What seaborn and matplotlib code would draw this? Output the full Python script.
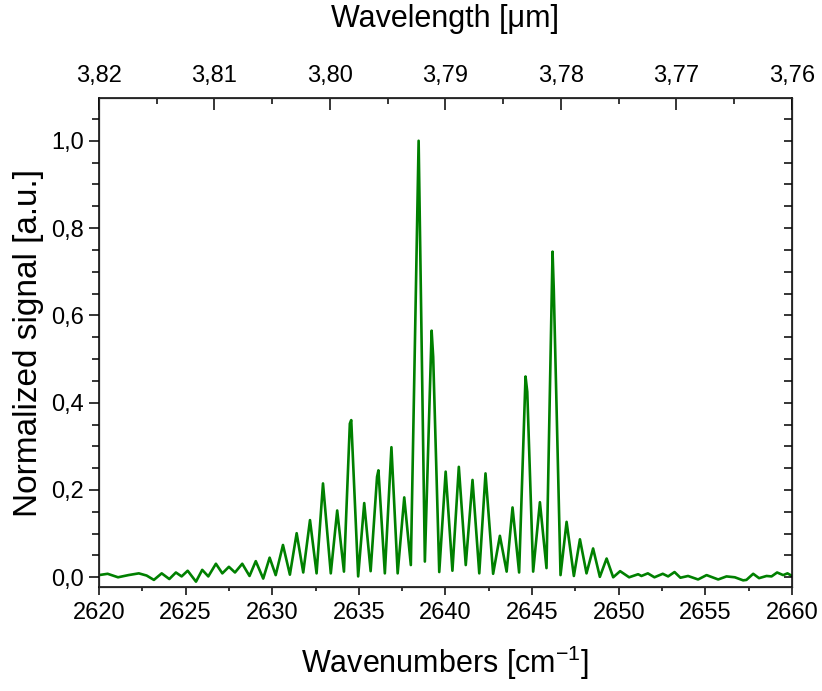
import numpy as np
import pandas as pd
import matplotlib
matplotlib.use("Agg")
import matplotlib.pyplot as plt
from matplotlib.ticker import MultipleLocator, FuncFormatter
import seaborn as sns

# Spectrum (peaks and troughs)
wavenumber = [
    2620.00, 2620.50, 2621.10, 2621.70, 2622.30, 2622.75, 2623.17, 2623.62,
    2624.06, 2624.44, 2624.77, 2625.12, 2625.60, 2625.96, 2626.31, 2626.75,
    2627.12, 2627.50, 2627.85, 2628.27, 2628.69, 2629.05, 2629.48, 2629.85,
    2630.20, 2630.62, 2631.02, 2631.41, 2631.79, 2632.18, 2632.56, 2632.93,
    2633.38, 2633.75, 2634.14, 2634.48, 2634.56, 2634.96, 2635.31, 2635.68,
    2636.05, 2636.13, 2636.50, 2636.88, 2637.24, 2637.62, 2638.00, 2638.45,
    2638.81, 2639.20, 2639.29, 2639.64, 2640.01, 2640.40, 2640.77, 2641.17,
    2641.56, 2641.95, 2642.31, 2642.75, 2643.14, 2643.53, 2643.87, 2644.25,
    2644.62, 2644.72, 2645.06, 2645.45, 2645.83, 2646.18, 2646.25, 2646.64,
    2646.99, 2647.41, 2647.76, 2648.14, 2648.52, 2648.91, 2649.30, 2649.68,
    2650.08, 2650.60, 2651.12, 2651.31, 2651.68, 2652.06, 2652.54, 2652.85,
    2653.22, 2653.56, 2654.00, 2654.58, 2655.07, 2655.74, 2656.22, 2656.70,
    2657.18, 2657.37, 2657.76, 2658.10, 2658.53, 2658.82, 2659.14, 2659.49,
    2659.74, 2660.00,
]
signal = [
    0.005, 0.008, 0.000, 0.005, 0.009, 0.004, -0.006, 0.009,
    -0.004, 0.011, 0.002, 0.015, -0.010, 0.017, 0.002, 0.031,
    0.009, 0.024, 0.011, 0.031, 0.003, 0.037, -0.003, 0.045,
    0.005, 0.074, 0.006, 0.101, 0.011, 0.131, 0.009, 0.215,
    0.009, 0.153, 0.013, 0.352, 0.360, 0.002, 0.170, 0.014,
    0.230, 0.245, 0.009, 0.298, 0.009, 0.183, 0.028, 1.000,
    0.036, 0.565, 0.505, 0.012, 0.242, 0.015, 0.253, 0.028,
    0.223, 0.009, 0.238, 0.008, 0.095, 0.013, 0.160, 0.011,
    0.460, 0.425, 0.013, 0.172, 0.021, 0.746, 0.660, 0.005,
    0.127, 0.003, 0.087, 0.009, 0.066, 0.001, 0.043, 0.000,
    0.014, 0.000, 0.007, 0.003, 0.009, 0.000, 0.008, 0.002,
    0.012, -0.001, 0.003, -0.005, 0.005, -0.005, 0.002, 0.000,
    -0.007, -0.006, 0.008, -0.002, 0.003, 0.002, 0.011, 0.005,
    0.009, 0.003,
]

df = pd.DataFrame({"wavenumber": wavenumber, "signal": signal})

sns.set_style("ticks")
plt.rcParams["font.family"] = ["Liberation Sans", "DejaVu Sans"]
plt.rcParams["mathtext.fontset"] = "custom"
plt.rcParams["mathtext.rm"] = "Liberation Sans"
plt.rcParams["text.color"] = "black"
plt.rcParams["axes.labelcolor"] = "black"

comma = FuncFormatter(lambda v, pos: f"{v:.1f}".replace(".", ","))
comma2 = FuncFormatter(lambda v, pos: f"{v:.2f}".replace(".", ","))

fig = plt.figure(figsize=(8.22, 6.91), dpi=100)
ax = fig.add_axes([0.1204, 0.1501, 0.8431, 0.7081])

sns.lineplot(data=df, x="wavenumber", y="signal", ax=ax, color="#008000",
             linewidth=1.9, sort=False, estimator=None)

ax.set_xlim(2620, 2660)
ax.set_ylim(-0.0229, 1.098)
ax.xaxis.set_major_locator(MultipleLocator(5))
ax.xaxis.set_minor_locator(MultipleLocator(2.5))
ax.yaxis.set_major_locator(MultipleLocator(0.2))
ax.yaxis.set_minor_locator(MultipleLocator(0.05))
ax.yaxis.set_major_formatter(comma)
ax.tick_params(axis="both", which="major", direction="out", width=1.1,
               labelsize=17, colors="black")
ax.tick_params(axis="x", which="major", length=5.5, pad=5)
ax.tick_params(axis="x", which="minor", direction="out", length=3.2, width=1.1,
               colors="black")
ax.tick_params(axis="y", which="major", length=7, pad=4)
ax.tick_params(axis="y", which="minor", direction="out", length=5, width=1.1,
               colors="black")
ax.set_xlabel(r"Wavenumbers [cm$^{\mathregular{-1}}$]", fontsize=22, labelpad=14)
ax.set_ylabel("Normalized signal [a.u.]", fontsize=24, labelpad=5)
for sp in ax.spines.values():
    sp.set_linewidth(1.1)
    sp.set_color("black")

# right side: mirrored ticks pointing inwards
ax_r = ax.twinx()
ax_r.set_ylim(ax.get_ylim())
ax_r.yaxis.set_major_locator(MultipleLocator(0.2))
ax_r.yaxis.set_minor_locator(MultipleLocator(0.05))
ax_r.tick_params(axis="y", which="both", direction="in", labelright=False,
                 width=1.1, length=5.5, colors="black")
ax_r.tick_params(axis="y", which="major", length=6)

# top axis: wavelength
ax_t = ax.twiny()
ax_t.set_xlim(3.82, 3.76)
ax_t.xaxis.set_major_locator(MultipleLocator(0.01))
ax_t.xaxis.set_minor_locator(MultipleLocator(0.005))
ax_t.xaxis.set_major_formatter(comma2)
ax_t.tick_params(axis="x", which="major", direction="in", length=8.5,
                 width=1.1, labelsize=17, pad=8, colors="black")
ax_t.tick_params(axis="x", which="minor", direction="in", length=4, width=1.1,
                 colors="black")
ax_t.set_xlabel("Wavelength [μm]", fontsize=22, labelpad=27)

fig.savefig("out.png", dpi=100)
